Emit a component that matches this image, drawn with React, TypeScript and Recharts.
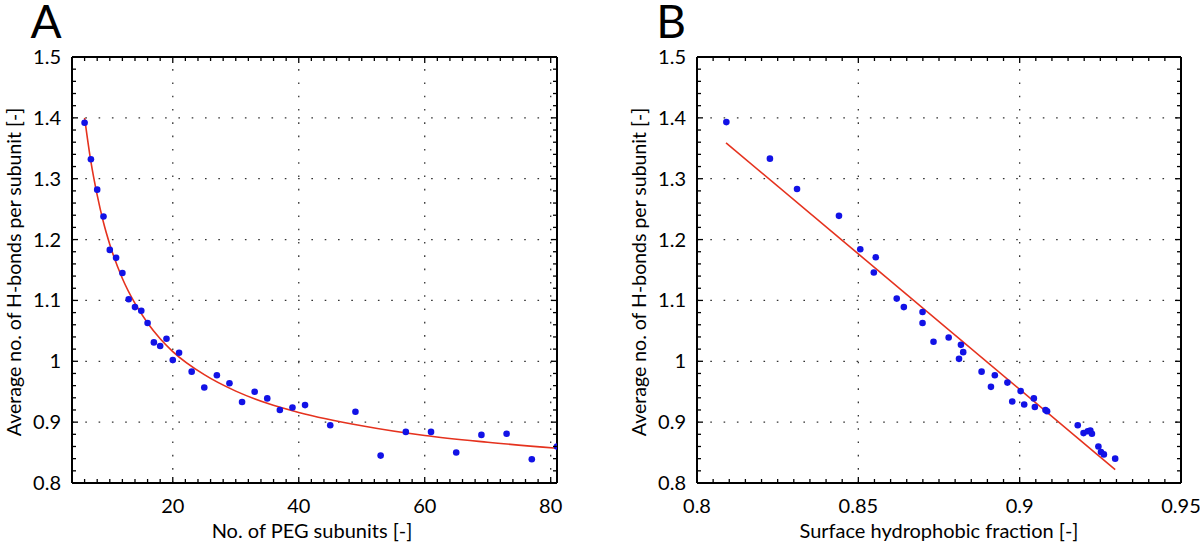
import React from "react";
import { ComposedChart, XAxis, YAxis, Scatter, Line, ReferenceLine } from "recharts";

// panel A: H-bonds vs number of PEG subunits
const pegN = [6, 7, 8, 9, 10, 11, 12, 13, 14, 15, 16, 17, 18, 19, 20, 21, 23, 25, 27, 29, 31, 33, 35, 37, 39, 41, 45, 49, 53, 57, 61, 65, 69, 73, 77, 81];
const pegHb = [1.392, 1.332, 1.282, 1.238, 1.183, 1.17, 1.145, 1.102, 1.089, 1.083, 1.063, 1.031, 1.025, 1.037, 1.002, 1.014, 0.983, 0.957, 0.977, 0.964, 0.933, 0.95, 0.939, 0.92, 0.924, 0.928, 0.895, 0.917, 0.845, 0.884, 0.884, 0.85, 0.879, 0.881, 0.839, 0.86];
const pegFitN = [6, 7, 8, 9, 10, 12, 14, 16, 18, 20, 25, 30, 35, 40, 50, 60, 70, 81];
const pegFitHb = [1.4, 1.328, 1.273, 1.228, 1.192, 1.136, 1.095, 1.063, 1.037, 1.016, 0.978, 0.951, 0.931, 0.916, 0.894, 0.878, 0.867, 0.857];

// panel B: H-bonds vs surface hydrophobic fraction
const hydFrac = [0.8091, 0.8226, 0.831, 0.844, 0.8506, 0.8554, 0.8548, 0.8619, 0.8641, 0.8699, 0.8699, 0.8733, 0.878, 0.8818, 0.8825, 0.8812, 0.8882, 0.8911, 0.8923, 0.8962, 0.8977, 0.9003, 0.9014, 0.9044, 0.9047, 0.908, 0.9085, 0.918, 0.9198, 0.9211, 0.9219, 0.9224, 0.9244, 0.9252, 0.9261, 0.9296];
const hydHb = [1.393, 1.333, 1.283, 1.239, 1.184, 1.171, 1.146, 1.103, 1.089, 1.081, 1.063, 1.032, 1.039, 1.027, 1.015, 1.004, 0.983, 0.958, 0.977, 0.965, 0.934, 0.951, 0.929, 0.939, 0.925, 0.92, 0.918, 0.895, 0.882, 0.885, 0.886, 0.881, 0.86, 0.851, 0.847, 0.84];
const hydFitFrac = [0.809, 0.9296];
const hydFitHb = [1.359, 0.822];

// axes
const hbTicks = [0.8, 0.9, 1, 1.1, 1.2, 1.3, 1.4, 1.5];
const hbLabels = ["0.8", "0.9", "1", "1.1", "1.2", "1.3", "1.4", "1.5"];
const hbGrid = [0.9, 1, 1.1, 1.2, 1.3, 1.4];
const pegTicks = [20, 40, 60, 80];
const pegLabels = ["20", "40", "60", "80"];
const fracTicks = [0.8, 0.85, 0.9, 0.95];
const fracLabels = ["0.8", "0.85", "0.9", "0.95"];
const fracGrid = [0.85, 0.9];

const FONT = "Lato, 'Open Sans', sans-serif";
const DOT = "#1212e6";
const FIT = "#e5321e";
const LABEL_SIZE = 20;

function steps(from: number, to: number, step: number) {
  const out: number[] = [];
  for (let v = from; v <= to + step / 1000; v += step) out.push(Math.round(v * 10000) / 10000);
  return out;
}

const near = (a: number, b: number) => Math.abs(a - b) < 1e-6;

function makeTick(side: string, majors: number[], labels: string[] | null) {
  return (props: any) => {
    const { x, y, payload } = props;
    const idx = majors.findIndex((m) => near(m, payload.value));
    const len = idx >= 0 ? 6 : 4;
    let line = null;
    let text = null;
    if (side === "bottom") {
      line = <line x1={x} y1={y} x2={x} y2={y - len} stroke="#000" strokeWidth={1.3} />;
      if (labels && idx >= 0)
        text = (
          <text x={x} y={y + 30} textAnchor="middle" fontSize={LABEL_SIZE} fill="#000" fontFamily={FONT}>
            {labels[idx]}
          </text>
        );
    } else if (side === "top") {
      line = <line x1={x} y1={y} x2={x} y2={y + len} stroke="#000" strokeWidth={1.3} />;
    } else if (side === "left") {
      line = <line x1={x} y1={y} x2={x + len} y2={y} stroke="#000" strokeWidth={1.3} />;
      if (labels && idx >= 0)
        text = (
          <text x={x - 11} y={y + 7} textAnchor="end" fontSize={LABEL_SIZE} fill="#000" fontFamily={FONT}>
            {labels[idx]}
          </text>
        );
    } else {
      line = <line x1={x} y1={y} x2={x - len} y2={y} stroke="#000" strokeWidth={1.3} />;
    }
    return (
      <g>
        {line}
        {text}
      </g>
    );
  };
}

const dot = (p: any) => <circle cx={p.cx} cy={p.cy} r={3.3} fill={DOT} />;

type PanelProps = {
  left: number;
  margin: { top: number; right: number; bottom: number; left: number };
  xDomain: [number, number];
  xMinor: number[];
  xMajor: number[];
  xLabels: string[];
  xGrid: number[];
  points: { x: number; y: number }[];
  fit: { x: number; y: number }[];
  fitType: "monotone" | "linear";
};

function Panel(p: PanelProps) {
  const yMinor = steps(0.8, 1.5, 0.02);
  const axisLine = { stroke: "#000", strokeWidth: 2 };
  return (
    <div style={{ position: "absolute", left: p.left, top: 0 }}>
      <ComposedChart width={600} height={544} margin={p.margin}>
        <XAxis
          xAxisId="b"
          dataKey="x"
          type="number"
          domain={p.xDomain}
          ticks={p.xMinor}
          interval={0}
          allowDataOverflow
          height={40}
          tickSize={0}
          tickMargin={0}
          axisLine={axisLine}
          tickLine={false}
          tick={makeTick("bottom", p.xMajor, p.xLabels)}
        />
        <XAxis
          xAxisId="t"
          dataKey="x"
          type="number"
          orientation="top"
          domain={p.xDomain}
          ticks={p.xMinor}
          interval={0}
          allowDataOverflow
          height={1}
          tickSize={0}
          tickMargin={0}
          axisLine={axisLine}
          tickLine={false}
          tick={makeTick("top", p.xMajor, null)}
        />
        <YAxis
          yAxisId="l"
          dataKey="y"
          type="number"
          domain={[0.8, 1.5]}
          ticks={yMinor}
          interval={0}
          allowDataOverflow
          width={60}
          tickSize={0}
          tickMargin={0}
          axisLine={axisLine}
          tickLine={false}
          tick={makeTick("left", hbTicks, hbLabels)}
        />
        <YAxis
          yAxisId="r"
          dataKey="y"
          type="number"
          orientation="right"
          domain={[0.8, 1.5]}
          ticks={yMinor}
          interval={0}
          allowDataOverflow
          width={1}
          tickSize={0}
          tickMargin={0}
          axisLine={axisLine}
          tickLine={false}
          tick={makeTick("right", hbTicks, null)}
        />
        {p.xGrid.map((v) => (
          <ReferenceLine key={"vx" + v} x={v} xAxisId="b" yAxisId="l" stroke="#333" strokeWidth={1.3} strokeDasharray="1.6 11.7" />
        ))}
        {hbGrid.map((v) => (
          <ReferenceLine key={"hy" + v} y={v} xAxisId="b" yAxisId="l" stroke="#333" strokeWidth={1.3} strokeDasharray="1.6 11.7" />
        ))}
        <Line
          xAxisId="b"
          yAxisId="l"
          data={p.fit}
          dataKey="y"
          type={p.fitType}
          stroke={FIT}
          strokeWidth={1.6}
          dot={false}
          activeDot={false}
          isAnimationActive={false}
        />
        <Scatter xAxisId="b" yAxisId="l" data={p.points} shape={dot} isAnimationActive={false} />
      </ComposedChart>
    </div>
  );
}

export default function App() {
  const pegPoints = pegN.map((x, i) => ({ x, y: pegHb[i] }));
  const pegFit = pegFitN.map((x, i) => ({ x, y: pegFitHb[i] }));
  const hydPoints = hydFrac.map((x, i) => ({ x, y: hydHb[i] }));
  const hydFit = hydFitFrac.map((x, i) => ({ x, y: hydFitHb[i] }));
  const yTitle = "Average no. of H-bonds per subunit [-]";

  return (
    <div
      style={{
        position: "absolute",
        left: 0,
        top: 0,
        width: 1200,
        height: 544,
        background: "#fff",
        fontFamily: FONT,
        overflow: "hidden",
      }}
    >
      <Panel
        left={0}
        margin={{ top: 56, right: 42, bottom: 21, left: 12 }}
        xDomain={[4, 81]}
        xMinor={steps(4, 80, 2)}
        xMajor={pegTicks}
        xLabels={pegLabels}
        xGrid={pegTicks}
        points={pegPoints}
        fit={pegFit}
        fitType="monotone"
      />
      <Panel
        left={600}
        margin={{ top: 56, right: 18, bottom: 21, left: 37 }}
        xDomain={[0.8, 0.95]}
        xMinor={steps(0.8, 0.95, 0.005)}
        xMajor={fracTicks}
        xLabels={fracLabels}
        xGrid={fracGrid}
        points={hydPoints}
        fit={hydFit}
        fitType="linear"
      />
      <svg width={1200} height={544} style={{ position: "absolute", left: 0, top: 0, pointerEvents: "none" }}>
        <text x={46} y={38} fontSize={46} textAnchor="middle" fontFamily={FONT}>A</text>
        <text x={671} y={38} fontSize={46} textAnchor="middle" fontFamily={FONT}>B</text>
        <text x={13} y={272} fontSize={19.5} textAnchor="middle" dominantBaseline="central" transform="rotate(-90 13 272)" fontFamily={FONT}>
          {yTitle}
        </text>
        <text x={638} y={272} fontSize={19.5} textAnchor="middle" dominantBaseline="central" transform="rotate(-90 638 272)" fontFamily={FONT}>
          {yTitle}
        </text>
        <text x={312} y={538} fontSize={LABEL_SIZE} textAnchor="middle" fontFamily={FONT}>No. of PEG subunits [-]</text>
        <text x={939} y={538} fontSize={LABEL_SIZE} textAnchor="middle" fontFamily={FONT}>Surface hydrophobic fraction [-]</text>
      </svg>
    </div>
  );
}
